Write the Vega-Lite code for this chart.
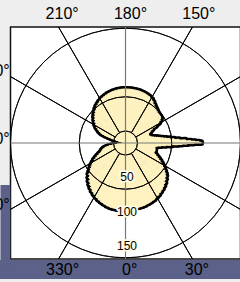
{
  "$schema": "https://vega.github.io/schema/vega-lite/v6.json",
  "width": 230,
  "height": 232,
  "autosize": {"type": "none"},
  "padding": {"left": 10.5, "top": 27, "right": 0, "bottom": 23},
  "background": "#eeeeee",
  "view": {"fill": "white", "stroke": "#111111", "strokeWidth": 1.5},
  "config": {"font": "Liberation Sans"},
  "datasets": {
    "pattern": [
      {"a":0,"b":3,"r":96.8},{"a":3,"b":6,"r":96.5},{"a":6,"b":9,"r":96.2},{"a":9,"b":12,"r":95.8},
      {"a":12,"b":15,"r":95.5},{"a":15,"b":18,"r":95},{"a":18,"b":21,"r":94.3},{"a":21,"b":24,"r":93.5},
      {"a":24,"b":27,"r":92.6},{"a":27,"b":30,"r":91.3},{"a":30,"b":33,"r":89.9},{"a":33,"b":36,"r":88.1},
      {"a":36,"b":39,"r":86.4},{"a":39,"b":42,"r":84.4},{"a":42,"b":45,"r":82.1},{"a":45,"b":48,"r":79.3},
      {"a":48,"b":51,"r":76.4},{"a":51,"b":53,"r":73.7},{"a":53,"b":55,"r":70.4},{"a":55,"b":57,"r":67.3},
      {"a":57,"b":59,"r":64},{"a":59,"b":61,"r":60.6},{"a":61,"b":63,"r":57.2},{"a":63,"b":65,"r":53.7},
      {"a":65,"b":67,"r":50.5},{"a":67,"b":69,"r":47.5},{"a":69,"b":71,"r":44.7},{"a":71,"b":73,"r":43.3},
      {"a":73,"b":75,"r":44.1},{"a":75,"b":77,"r":44.5},{"a":77,"b":79,"r":44.1},{"a":79,"b":81,"r":43.7},
      {"a":81,"b":83,"r":43.5},{"a":83,"b":84,"r":43.7},{"a":84,"b":85,"r":46.5},{"a":85,"b":86,"r":52},
      {"a":86,"b":87,"r":58.8},{"a":87,"b":88,"r":67.5},{"a":88,"b":88.5,"r":76},{"a":88.5,"b":89,"r":82.5},
      {"a":89,"b":89.5,"r":90},{"a":89.5,"b":90,"r":99.5},{"a":90,"b":90.5,"r":110.5},{"a":90.5,"b":91,"r":107.5},
      {"a":91,"b":91.5,"r":101.5},{"a":91.5,"b":92,"r":95.5},{"a":92,"b":93,"r":87.5},{"a":93,"b":94,"r":78.5},
      {"a":94,"b":95,"r":71.3},{"a":95,"b":96,"r":65.2},{"a":96,"b":97,"r":60},{"a":97,"b":98,"r":55.5},
      {"a":98,"b":99,"r":51.7},{"a":99,"b":100,"r":48.3},{"a":100,"b":101,"r":45.2},{"a":101,"b":102,"r":42.5},
      {"a":102,"b":103,"r":40.1},{"a":103,"b":105,"r":38},{"a":105,"b":107,"r":36.3},{"a":107,"b":109,"r":35.6},
      {"a":109,"b":111,"r":35.7},{"a":111,"b":113,"r":36.4},{"a":113,"b":115,"r":38},{"a":115,"b":117,"r":40.5},
      {"a":117,"b":119,"r":43.9},{"a":119,"b":121,"r":50.5},{"a":121,"b":123,"r":57.2},{"a":123,"b":125,"r":60.8},
      {"a":125,"b":127,"r":63.3},{"a":127,"b":129,"r":64},{"a":129,"b":131,"r":64.1},{"a":131,"b":134,"r":64.2},
      {"a":134,"b":137,"r":65},{"a":137,"b":140,"r":66.5},{"a":140,"b":143,"r":68.1},{"a":143,"b":146,"r":70.1},
      {"a":146,"b":149,"r":72.7},{"a":149,"b":152,"r":74.8},{"a":152,"b":155,"r":76.1},{"a":155,"b":158,"r":76.9},
      {"a":158,"b":161,"r":77.5},{"a":161,"b":164,"r":78},{"a":164,"b":167,"r":78.3},{"a":167,"b":170,"r":78.5},
      {"a":170,"b":173,"r":78.7},{"a":173,"b":176,"r":78.8},{"a":176,"b":179,"r":78.8},{"a":179,"b":182,"r":78.8},
      {"a":182,"b":185,"r":78.7},{"a":185,"b":188,"r":78.5},{"a":188,"b":191,"r":78.1},{"a":191,"b":194,"r":77.6},
      {"a":194,"b":197,"r":77.1},{"a":197,"b":200,"r":76.3},{"a":200,"b":203,"r":75.5},{"a":203,"b":206,"r":74.5},
      {"a":206,"b":209,"r":73.5},{"a":209,"b":212,"r":72},{"a":212,"b":215,"r":70.3},{"a":215,"b":218,"r":68.8},
      {"a":218,"b":221,"r":66.8},{"a":221,"b":224,"r":64.5},{"a":224,"b":227,"r":62.1},{"a":227,"b":230,"r":59.8},
      {"a":230,"b":233,"r":57.1},{"a":233,"b":236,"r":54.5},{"a":236,"b":239,"r":51.5},{"a":239,"b":242,"r":48.3},
      {"a":242,"b":244,"r":45.3},{"a":244,"b":246,"r":42.5},{"a":246,"b":248,"r":39.3},{"a":248,"b":249,"r":36.5},
      {"a":249,"b":250,"r":32.5},{"a":250,"b":251,"r":26.5},{"a":251,"b":252,"r":20.5},{"a":252,"b":253,"r":12.5},
      {"a":253,"b":254,"r":4.5},{"a":254,"b":277,"r":0.5},{"a":277,"b":278,"r":5.5},{"a":278,"b":279,"r":12.5},
      {"a":279,"b":280,"r":19.5},{"a":280,"b":281,"r":24.5},{"a":281,"b":282,"r":27.5},{"a":282,"b":284,"r":30.5},
      {"a":284,"b":286,"r":33},{"a":286,"b":288,"r":35},{"a":288,"b":290,"r":36.5},{"a":290,"b":292,"r":38.5},
      {"a":292,"b":294,"r":41.5},{"a":294,"b":296,"r":45},{"a":296,"b":298,"r":48.5},{"a":298,"b":300,"r":52},
      {"a":300,"b":302,"r":55},{"a":302,"b":304,"r":58},{"a":304,"b":306,"r":61},{"a":306,"b":308,"r":64},
      {"a":308,"b":310,"r":67},{"a":310,"b":313,"r":70.5},{"a":313,"b":316,"r":74},{"a":316,"b":319,"r":77.5},
      {"a":319,"b":322,"r":80.5},{"a":322,"b":325,"r":83.3},{"a":325,"b":328,"r":85.8},{"a":328,"b":331,"r":88},
      {"a":331,"b":334,"r":90},{"a":334,"b":337,"r":91.7},{"a":337,"b":340,"r":93.1},{"a":340,"b":343,"r":94.4},
      {"a":343,"b":346,"r":95.5},{"a":346,"b":349,"r":96.3},{"a":349,"b":352,"r":96.7},{"a":352,"b":355,"r":96.9},
      {"a":355,"b":358,"r":97},{"a":358,"b":360,"r":97}
    ],
    "rlab": [{"r": 50}, {"r": 100}, {"r": 150}]
  },
  "layer": [
    {
      "data": {"name": "pattern"},
      "mark": {"type": "arc", "filled": false, "stroke": "#000000", "strokeWidth": 6, "strokeJoin": "round"},
      "encoding": {
        "theta": {"field": "a", "type": "quantitative", "stack": null, "scale": {"type": "linear", "domain": [0, 360], "range": [3.141592653589793, -3.141592653589793]}},
        "theta2": {"field": "b"},
        "radius": {"field": "r", "type": "quantitative", "scale": {"type": "linear", "domain": [0, 100], "range": [0, 68.5], "zero": true}}
      }
    },
    {
      "data": {"name": "pattern"},
      "mark": {"type": "arc", "fill": "#fff4c1", "stroke": "#fff4c1", "strokeWidth": 1},
      "encoding": {
        "theta": {"field": "a", "type": "quantitative", "stack": null, "scale": {"type": "linear", "domain": [0, 360], "range": [3.141592653589793, -3.141592653589793]}},
        "theta2": {"field": "b"},
        "radius": {"field": "r", "type": "quantitative", "scale": {"type": "linear", "domain": [0, 100], "range": [0, 68.5], "zero": true}}
      }
    },
    {
      "data": {"values": [{"r": 17.5}, {"r": 50}, {"r": 100}, {"r": 150}, {"r": 200}]},
      "mark": {"type": "arc", "filled": false, "stroke": "#000000", "strokeWidth": 0.9, "clip": true},
      "encoding": {
        "theta": {"datum": 0, "type": "quantitative", "scale": {"type": "linear", "domain": [0, 360], "range": [3.141592653589793, -3.141592653589793]}},
        "theta2": {"datum": 360},
        "radius": {"field": "r", "type": "quantitative", "scale": {"type": "linear", "domain": [0, 100], "range": [0, 68.5], "zero": true}}
      }
    },
    {
      "data": {"values": [{"a": 30}, {"a": 60}, {"a": 120}, {"a": 150}, {"a": 210}, {"a": 240}, {"a": 300}, {"a": 330}]},
      "mark": {"type": "arc", "filled": false, "stroke": "#000000", "strokeWidth": 1, "clip": true},
      "encoding": {
        "theta": {"field": "a", "type": "quantitative", "stack": null, "scale": {"type": "linear", "domain": [0, 360], "range": [3.141592653589793, -3.141592653589793]}},
        "theta2": {"field": "a"},
        "radius": {"datum": 300, "type": "quantitative", "scale": {"type": "linear", "domain": [0, 100], "range": [0, 68.5], "zero": true}},
        "radius2": {"datum": 17.5}
      }
    },
    {
      "data": {"values": [{"a": 0}, {"a": 90}, {"a": 180}, {"a": 270}]},
      "mark": {"type": "arc", "filled": false, "stroke": "#777777", "strokeWidth": 1.2, "clip": true},
      "encoding": {
        "theta": {"field": "a", "type": "quantitative", "stack": null, "scale": {"type": "linear", "domain": [0, 360], "range": [3.141592653589793, -3.141592653589793]}},
        "theta2": {"field": "a"},
        "radius": {"datum": 300, "type": "quantitative", "scale": {"type": "linear", "domain": [0, 100], "range": [0, 68.5], "zero": true}}
      }
    },
    {
      "data": {"name": "rlab"},
      "mark": {"type": "text", "fontSize": 12, "fill": "#fffbe6", "stroke": "#fffbe6", "strokeWidth": 3.5, "strokeJoin": "round", "dx": 1.5, "baseline": "middle", "align": "center"},
      "encoding": {
        "x": {"datum": 0, "type": "quantitative", "scale": {"domain": [-167.9, 167.9], "nice": false, "zero": false},
          "axis": {"orient": "top", "values": [-99.8, 0, 99.8], "labelExpr": "datum.value < -50 ? '210°' : datum.value > 50 ? '150°' : '180°'", "domain": false, "ticks": false, "grid": false, "title": null, "labelFont": "Liberation Sans", "labelFontSize": 16, "labelColor": "#000000", "labelPadding": 8.7, "labelBaseline": "alphabetic", "labelOffset": 4.5, "labelFlush": false, "labelOverlap": false, "labelBound": false}},
        "y": {"field": "r", "type": "quantitative", "scale": {"domain": [-169.3, 169.3], "nice": false, "zero": false, "reverse": true},
          "axis": {"orient": "left", "values": [-98.5, 0, 96.8, 128.7], "labelExpr": "datum.value < -50 ? '240°' : datum.value > 110 ? '' : datum.value > 50 ? '300°' : '270°'", "domain": false, "grid": false, "title": null, "ticks": true, "offset": 0.75, "tickSize": 9.75, "tickWidth": 93, "tickColor": "#5b6189", "tickOpacity": {"condition": {"test": "datum.value > 110", "value": 1}, "value": 0}, "labelFont": "Liberation Sans", "labelFontSize": 16, "labelColor": "#000000", "labelPadding": -9.2, "labelBaseline": "alphabetic", "labelAlign": "right", "labelFlush": false, "labelOverlap": false, "labelBound": false}},
        "text": {"field": "r", "type": "quantitative"}
      }
    },
    {
      "data": {"name": "rlab"},
      "mark": {"type": "text", "fontSize": 12, "fill": "#000000", "dx": 1.5, "baseline": "middle", "align": "center"},
      "encoding": {
        "x": {"datum": 0, "type": "quantitative", "scale": {"domain": [-167.9, 167.9], "nice": false, "zero": false},
          "axis": {"orient": "bottom", "values": [-98, -8.03, 0, 98], "labelExpr": "datum.value < -50 ? '330°' : datum.value > 50 ? '30°' : datum.value < -1 ? '' : '0°'", "domain": false, "offset": 0.5, "ticks": true, "tickSize": 19, "tickWidth": 242, "tickColor": "#5b6189", "tickOpacity": {"condition": {"test": "datum.value > -50 && datum.value < -1", "value": 1}, "value": 0}, "grid": false, "title": null, "labelFont": "Liberation Sans", "labelFontSize": 16, "labelColor": "#000000", "labelPadding": -4.5, "labelBaseline": "alphabetic", "labelOffset": 3.7, "labelFlush": false, "labelOverlap": false, "labelBound": false}},
        "y": {"field": "r", "type": "quantitative", "scale": {"domain": [-169.3, 169.3], "nice": false, "zero": false, "reverse": true},
          "axis": {"orient": "left", "values": [-98.5, 0, 96.8, 128.7], "labelExpr": "datum.value < -50 ? '240°' : datum.value > 110 ? '' : datum.value > 50 ? '300°' : '270°'", "domain": false, "grid": false, "title": null, "ticks": true, "offset": 0.75, "tickSize": 9.75, "tickWidth": 93, "tickColor": "#5b6189", "tickOpacity": {"condition": {"test": "datum.value > 110", "value": 1}, "value": 0}, "labelFont": "Liberation Sans", "labelFontSize": 16, "labelColor": "#000000", "labelPadding": -9.2, "labelBaseline": "alphabetic", "labelAlign": "right", "labelFlush": false, "labelOverlap": false, "labelBound": false}},
        "text": {"field": "r", "type": "quantitative"}
      }
    }
  ],
  "resolve": {"axis": {"x": "independent"}}
}
